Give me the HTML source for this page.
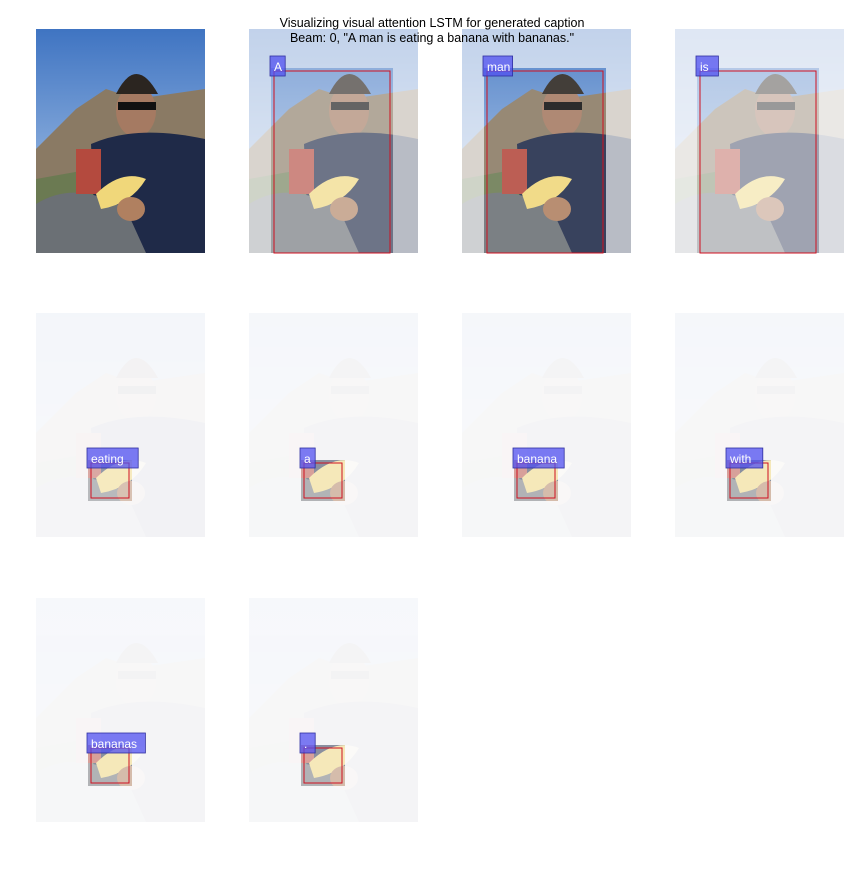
<!DOCTYPE html>
<html><head><meta charset="utf-8"><style>
html,body{margin:0;padding:0;background:#fff;}
svg text{font-family:"Liberation Sans","DejaVu Sans",sans-serif;}
</style></head><body>
<svg id="fig" width="864" height="864" viewBox="0 0 864 864" xmlns="http://www.w3.org/2000/svg">
<defs>
<linearGradient id="sky" x1="0" y1="0" x2="0" y2="1"><stop offset="0" stop-color="#3f74c2"/><stop offset="1" stop-color="#b8d0ec"/></linearGradient>
<g id="photo">
<rect width="169" height="224" fill="url(#sky)"/>
<polygon points="0,120 40,80 70,60 100,70 169,60 169,224 0,224" fill="#8a7a64"/>
<polygon points="0,150 169,120 169,224 0,224" fill="#6b7a52"/>
<ellipse cx="100" cy="82" rx="20" ry="26" fill="#a57a62"/>
<path d="M80 65 Q100 25 122 65 Z" fill="#2b2520"/>
<rect x="82" y="73" width="38" height="8" fill="#111"/>
<path d="M55 115 Q100 95 169 110 L169 224 L60 224 Z" fill="#1f2a48"/>
<path d="M0 175 Q40 150 90 180 L110 224 L0 224 Z" fill="#6b7075"/>
<rect x="40" y="120" width="25" height="45" fill="#b44a3e"/>
<path d="M60 165 Q85 140 110 150 Q95 175 65 180 Z" fill="#f0d77a"/>
<ellipse cx="95" cy="180" rx="14" ry="12" fill="#b08060"/>
</g>
</defs>
<g id="panels"></g>
<text x="432" y="27" font-size="12.5" text-anchor="middle" fill="#000">Visualizing visual attention LSTM for generated caption</text>
<text x="432" y="42" font-size="12.5" text-anchor="middle" fill="#000">Beam: 0, "A man is eating a banana with bananas."</text>
</svg>
<script>
// panel grid origins
const colX = [36, 249, 462, 675];
const rowY = [29, 313, 598];
const words = ["A","man","is","eating","a","banana","with","bananas","."];
// attention box in image coords: x, y, w, h (image is 169x224)
const boxX = [25, 25, 25, 55, 55, 55, 55, 55, 55];
const boxY = [42, 42, 42, 150, 150, 150, 150, 150, 150];
const boxW = [116, 116, 116, 38, 38, 38, 38, 38, 38];
const boxH = [182, 182, 182, 35, 35, 35, 35, 35, 35];
const baseOp = [0.3, 0.3, 0.15, 0.04, 0.03, 0.03, 0.03, 0.03, 0.03];
const hiOp = [0.55, 0.85, 0.35, 0.45, 0.5, 0.5, 0.5, 0.5, 0.5];
const NS = "http://www.w3.org/2000/svg";
const root = document.getElementById('panels');
function mk(tag, attrs, parent){const e=document.createElementNS(NS,tag);for(const k in attrs)e.setAttribute(k,attrs[k]);parent.appendChild(e);return e;}
const p0 = mk('g',{transform:`translate(${colX[0]},${rowY[0]})`},root);


mk('use',{href:'#photo'},p0);
for(let i=0;i<words.length;i++){
  const k=i+1, c=k%4, r=Math.floor(k/4);
  const g=mk('g',{transform:`translate(${colX[c]},${rowY[r]})`},root);
  
  
  mk('rect',{width:169,height:224,fill:'#fcfcfd'},g);
  mk('use',{href:'#photo',opacity:baseOp[i]},g);
  const cp='cp'+i;
  const cl=mk('clipPath',{id:cp},g);
  mk('rect',{x:boxX[i]-3,y:boxY[i]-3,width:boxW[i]+6,height:boxH[i]+6},cl);
  const inner=mk('g',{'clip-path':`url(#${cp})`},g);
  mk('rect',{width:169,height:224,fill:'#fff','fill-opacity':0.3},inner);
  mk('use',{href:'#photo',opacity:hiOp[i]},inner);
  const rb=mk('rect',{x:boxX[i],y:boxY[i],width:boxW[i],height:boxH[i],fill:'none',stroke:'#d01020','stroke-width':1},g);
  
  
  const tw=words[i].length*7.2+8;
  const lb=mk('rect',{x:boxX[i]-4,y:boxY[i]-15,width:Math.max(tw,12),height:20,fill:'#5050f0','fill-opacity':0.75,stroke:'#3030a0','stroke-width':0.8},g);
  
  
  const t=mk('text',{x:boxX[i],y:boxY[i],'font-size':12,fill:'#fff'},g);
  t.textContent=words[i];
  
  
}
</script>
</body></html>
